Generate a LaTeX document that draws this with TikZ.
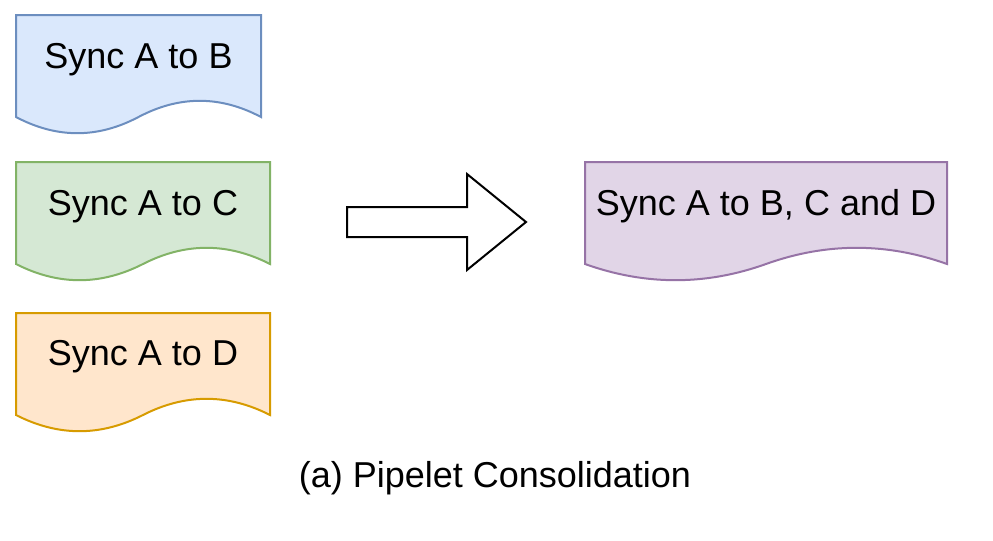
\documentclass[tikz,border=0pt]{standalone}
\usepackage{fontspec}
\setmainfont{Liberation Sans}
\usepackage{tikz}

\definecolor{blueFill}{RGB}{218,232,252}
\definecolor{blueLine}{RGB}{108,142,191}
\definecolor{greenFill}{RGB}{213,232,212}
\definecolor{greenLine}{RGB}{130,179,102}
\definecolor{orangeFill}{RGB}{255,230,204}
\definecolor{orangeLine}{RGB}{215,155,0}
\definecolor{purpleFill}{RGB}{225,213,231}
\definecolor{purpleLine}{RGB}{150,115,166}

\begin{document}
\begin{tikzpicture}[x=0.75pt,y=0.75pt,yscale=-1,xscale=1,
  doc/.style={line width=1.5pt,line join=miter},
  label/.style={anchor=base,inner sep=0.75pt,font=\fontsize{27}{32}\selectfont}]
\useasboundingbox (0,0) rectangle (993,540);

%Shape: Document (A to B)
\draw [doc,draw=blueLine,fill=blueFill] (16,15) -- (261,15) -- (261,117) .. controls (220.17,95.4) and (179.33,95.4) .. (138.5,117) .. controls (97.67,138.6) and (56.83,138.6) .. (16,117) -- cycle ;
%Shape: Document (A to C)
\draw [doc,draw=greenLine,fill=greenFill] (16,162) -- (270,162) -- (270,264) .. controls (227.67,242.4) and (185.33,242.4) .. (143,264) .. controls (100.67,285.6) and (58.33,285.6) .. (16,264) -- cycle ;
%Shape: Document (A to D)
\draw [doc,draw=orangeLine,fill=orangeFill] (16,313) -- (270,313) -- (270,415) .. controls (227.67,393.4) and (185.33,393.4) .. (143,415) .. controls (100.67,436.6) and (58.33,436.6) .. (16,415) -- cycle ;
%Shape: Document (A to B, C and D)
\draw [doc,draw=purpleLine,fill=purpleFill] (585,162) -- (947,162) -- (947,264) .. controls (886.67,242.4) and (826.33,242.4) .. (766,264) .. controls (705.67,285.6) and (645.33,285.6) .. (585,264) -- cycle ;
%Shape: Right Arrow
\draw [doc,draw=black,fill=white] (347,207) -- (467,207) -- (467,174) -- (526,222) -- (467,270) -- (467,237) -- (347,237) -- cycle ;

% Text Node
\node [label] (syncB) at (138.5,68) {Sync A to B};
% Text Node
\node [label] (syncC) at (143,215) {Sync A to C};
% Text Node
\node [label] (syncD) at (143,365) {Sync A to D};
% Text Node
\node [label] (syncAll) at (766,215) {Sync A to B, C and D};
% Text Node
\node [label] (caption) at (495,487) {(a) Pipelet Consolidation};

\end{tikzpicture}
\end{document}
